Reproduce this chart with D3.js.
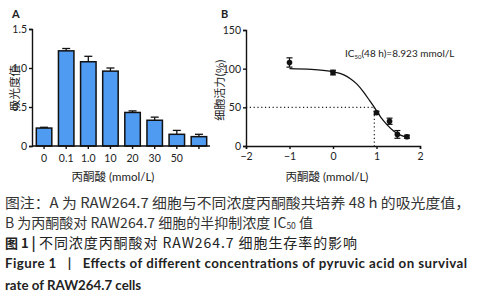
<!DOCTYPE html>
<html>
<head>
<meta charset="utf-8">
<script src="https://cdn.jsdelivr.net/npm/d3@7"></script>
<style>
  body { margin: 0; background: #fff; }
  svg { display: block; }
  .axis path, .axis line { stroke: #111; stroke-width: 1.4; }
  .axis text { font-family: Lato, "Noto Sans", sans-serif; font-size: 10.5px; fill: #222; }
  .cn { font-family: "Noto Sans CJK SC", sans-serif; }
</style>
</head>
<body>
<div id="chart"></div>
<script>
// Panel A: absorbance by concentration
var barCats = ["0", "0.1", "1.0", "10", "20", "30", "50", ""];
var barValues = [0.23, 1.22, 1.08, 0.96, 0.43, 0.33, 0.15, 0.12];
var barErrors = [0.01, 0.03, 0.07, 0.04, 0.02, 0.04, 0.05, 0.03];
var barTicksY = [0, 0.5, 1.0, 1.5];

// Panel B: viability vs log concentration
var logDose = [-1, 0, 1, 1.3, 1.48, 1.7];
var viability = [108, 95, 43, 32, 15, 12];
var viabilityErr = [6, 3, 2, 4, 5, 2];
// fitted curve
var curveX = [-1, -0.5, 0, 0.25, 0.4, 0.55, 0.7, 0.85, 0.95, 1.1, 1.25, 1.4, 1.55, 1.7];
var curveY = [100, 99, 96, 92, 87, 80, 70, 58, 50, 37, 27, 19, 14, 11];
var ic50Log = 0.95;
var lineTicksX = [-2, -1, 0, 1, 2];
var lineTicksY = [0, 50, 100, 150];

var captionLines = [
  "图注：A 为 RAW264.7 细胞与不同浓度丙酮酸共培养 48 h 的吸光度值，",
  "B 为丙酮酸对 RAW264.7 细胞的半抑制浓度 IC"
];

var svg = d3.select("#chart").append("svg")
  .attr("width", 481)
  .attr("height", 300);

// ---------- panel A ----------
var xA = d3.scaleBand()
  .domain(d3.range(barCats.length))
  .range([33, 210])
  .paddingInner(0.3)
  .paddingOuter(0.15);

var yA = d3.scaleLinear().domain([0, 1.5]).range([146, 29]);

var gA = svg.append("g");

gA.selectAll("rect.bar")
  .data(barValues)
  .enter()
  .append("rect")
  .attr("class", "bar")
  .attr("x", (d, i) => xA(i))
  .attr("width", xA.bandwidth())
  .attr("y", d => yA(d))
  .attr("height", d => yA(0) - yA(d))
  .attr("fill", "#4f9bf2")
  .attr("stroke", "#111")
  .attr("stroke-width", 1.5);

// error bars (upper only)
var errA = gA.selectAll("g.err")
  .data(barValues)
  .enter()
  .append("g");
errA.append("line")
  .attr("x1", (d, i) => xA(i) + xA.bandwidth() / 2)
  .attr("x2", (d, i) => xA(i) + xA.bandwidth() / 2)
  .attr("y1", d => yA(d))
  .attr("y2", (d, i) => yA(d + barErrors[i]))
  .attr("stroke", "#111").attr("stroke-width", 1.3);
errA.append("line")
  .attr("x1", (d, i) => xA(i) + xA.bandwidth() / 2 - 4)
  .attr("x2", (d, i) => xA(i) + xA.bandwidth() / 2 + 4)
  .attr("y1", (d, i) => yA(d + barErrors[i]))
  .attr("y2", (d, i) => yA(d + barErrors[i]))
  .attr("stroke", "#111").attr("stroke-width", 1.3);

gA.append("g")
  .attr("class", "axis")
  .attr("transform", "translate(0,146)")
  .call(d3.axisBottom(xA).tickSize(3).tickPadding(6).tickFormat(i => barCats[i]))
  .call(g => g.select(".domain").attr("d", "M32,0H210"));

gA.append("g")
  .attr("class", "axis")
  .attr("transform", "translate(32,0)")
  .call(d3.axisLeft(yA).tickValues(barTicksY).tickSize(3).tickPadding(2)
    .tickFormat(d => d === 0 ? "0" : d3.format(".1f")(d)));

gA.append("text")
  .attr("class", "cn")
  .attr("transform", "translate(19,88) rotate(-90)")
  .attr("text-anchor", "middle")
  .attr("font-size", 11.5)
  .attr("fill", "#222")
  .text("吸光度值");

gA.append("text")
  .attr("x", 113).attr("y", 181)
  .attr("text-anchor", "middle")
  .attr("font-size", 11.5)
  .attr("fill", "#222")
  .html('<tspan class="cn">丙酮酸</tspan><tspan font-family="Lato, sans-serif"> (mmol/L)</tspan>');

svg.append("text")
  .attr("x", 12).attr("y", 18)
  .attr("font-family", "Lato, sans-serif")
  .attr("font-weight", "bold")
  .attr("font-size", 11)
  .attr("fill", "#222")
  .text("A");

// ---------- panel B ----------
var xB = d3.scaleLinear().domain([-2, 2]).range([246, 420]);
var yB = d3.scaleLinear().domain([0, 150]).range([146, 30]);
var gB = svg.append("g");

// dotted IC50 guides
gB.append("line")
  .attr("x1", xB(-2)).attr("x2", xB(ic50Log))
  .attr("y1", yB(50)).attr("y2", yB(50))
  .attr("stroke", "#222").attr("stroke-width", 1.2)
  .attr("stroke-dasharray", "1.2,2.6");
gB.append("line")
  .attr("x1", xB(ic50Log)).attr("x2", xB(ic50Log))
  .attr("y1", yB(50)).attr("y2", yB(0))
  .attr("stroke", "#222").attr("stroke-width", 1.2)
  .attr("stroke-dasharray", "1.2,2.6");

var curve = d3.line()
  .x(d => xB(d[0]))
  .y(d => yB(d[1]))
  .curve(d3.curveMonotoneX);

gB.append("path")
  .datum(d3.zip(curveX, curveY))
  .attr("d", curve)
  .attr("fill", "none")
  .attr("stroke", "#111")
  .attr("stroke-width", 1.3);

var pts = gB.selectAll("g.pt")
  .data(d3.zip(logDose, viability, viabilityErr))
  .enter()
  .append("g");
pts.append("line")
  .attr("x1", d => xB(d[0])).attr("x2", d => xB(d[0]))
  .attr("y1", d => yB(d[1] - d[2])).attr("y2", d => yB(d[1] + d[2]))
  .attr("stroke", "#111").attr("stroke-width", 1.2);
[-1, 1].forEach(function(s) {
  pts.append("line")
    .attr("x1", d => xB(d[0]) - 3).attr("x2", d => xB(d[0]) + 3)
    .attr("y1", d => yB(d[1] + s * d[2])).attr("y2", d => yB(d[1] + s * d[2]))
    .attr("stroke", "#111").attr("stroke-width", 1.2);
});
pts.append("circle")
  .attr("cx", d => xB(d[0]))
  .attr("cy", d => yB(d[1]))
  .attr("r", 2.8)
  .attr("fill", "#111");

gB.append("g")
  .attr("class", "axis")
  .attr("transform", "translate(0,146)")
  .call(d3.axisBottom(xB).tickValues(lineTicksX).tickSize(3).tickPadding(4)
    .tickFormat(d => d < 0 ? "\u2212" + Math.abs(d) : d));

gB.append("g")
  .attr("class", "axis")
  .attr("transform", "translate(246,0)")
  .call(d3.axisLeft(yB).tickValues(lineTicksY).tickSize(3).tickPadding(2));

gB.append("text")
  .attr("class", "cn")
  .attr("transform", "translate(224,90) rotate(-90)")
  .attr("text-anchor", "middle")
  .attr("font-size", 11)
  .attr("fill", "#222")
  .text("细胞活力(%)");

gB.append("text")
  .attr("x", 327).attr("y", 181)
  .attr("text-anchor", "middle")
  .attr("font-size", 11.5)
  .attr("fill", "#222")
  .html('<tspan class="cn">丙酮酸</tspan><tspan font-family="Lato, sans-serif"> (mmol/L)</tspan>');

gB.append("text")
  .attr("x", 345).attr("y", 57)
  .attr("font-family", "Lato, sans-serif")
  .attr("font-size", 10)
  .attr("fill", "#222")
  .html('IC<tspan font-size="6" dy="2">50</tspan><tspan dy="-2">(48 h)=8.923 mmol/L</tspan>');

svg.append("text")
  .attr("x", 221).attr("y", 18)
  .attr("font-family", "Lato, sans-serif")
  .attr("font-weight", "bold")
  .attr("font-size", 11)
  .attr("fill", "#222")
  .text("B");

// ---------- caption ----------
var cap = svg.append("g")
  .attr("font-family", "'Noto Sans CJK SC', sans-serif")
  .attr("fill", "#333")
  .attr("font-size", 14);

cap.append("text").attr("x", 5).attr("y", 208)
  .attr("textLength", 465).attr("lengthAdjust", "spacingAndGlyphs")
  .text(captionLines[0]);
cap.append("text").attr("x", 5).attr("y", 227.5)
  .html(captionLines[1] + '<tspan font-size="8.5" dy="1.5">50</tspan><tspan dy="-1.5"> 值</tspan>');

cap.append("text").attr("x", 5).attr("y", 247.5)
  .attr("fill", "#222").attr("font-weight", "bold").attr("font-size", 13)
  .text("图 1");
cap.append("text").attr("x", 31.5).attr("y", 247.5)
  .attr("fill", "#222").attr("font-weight", "bold")
  .text("|");
cap.append("text").attr("x", 39).attr("y", 247.5)
  .attr("fill", "#222")
  .attr("textLength", 318).attr("lengthAdjust", "spacing")
  .text("不同浓度丙酮酸对 RAW264.7 细胞生存率的影响");

cap.append("text").attr("x", 5).attr("y", 268)
  .attr("font-family", "Lato, sans-serif")
  .attr("font-weight", "bold")
  .attr("font-size", 13.3)
  .attr("fill", "#222")
  .attr("textLength", 462).attr("lengthAdjust", "spacing")
  .attr("xml:space", "preserve")
  .text("Figure 1   |   Effects of different concentrations of pyruvic acid on survival");
cap.append("text").attr("x", 5).attr("y", 289.5)
  .attr("font-family", "Lato, sans-serif")
  .attr("font-weight", "bold")
  .attr("font-size", 13.3)
  .attr("fill", "#222")
  .text("rate of RAW264.7 cells");
</script>
</body>
</html>
